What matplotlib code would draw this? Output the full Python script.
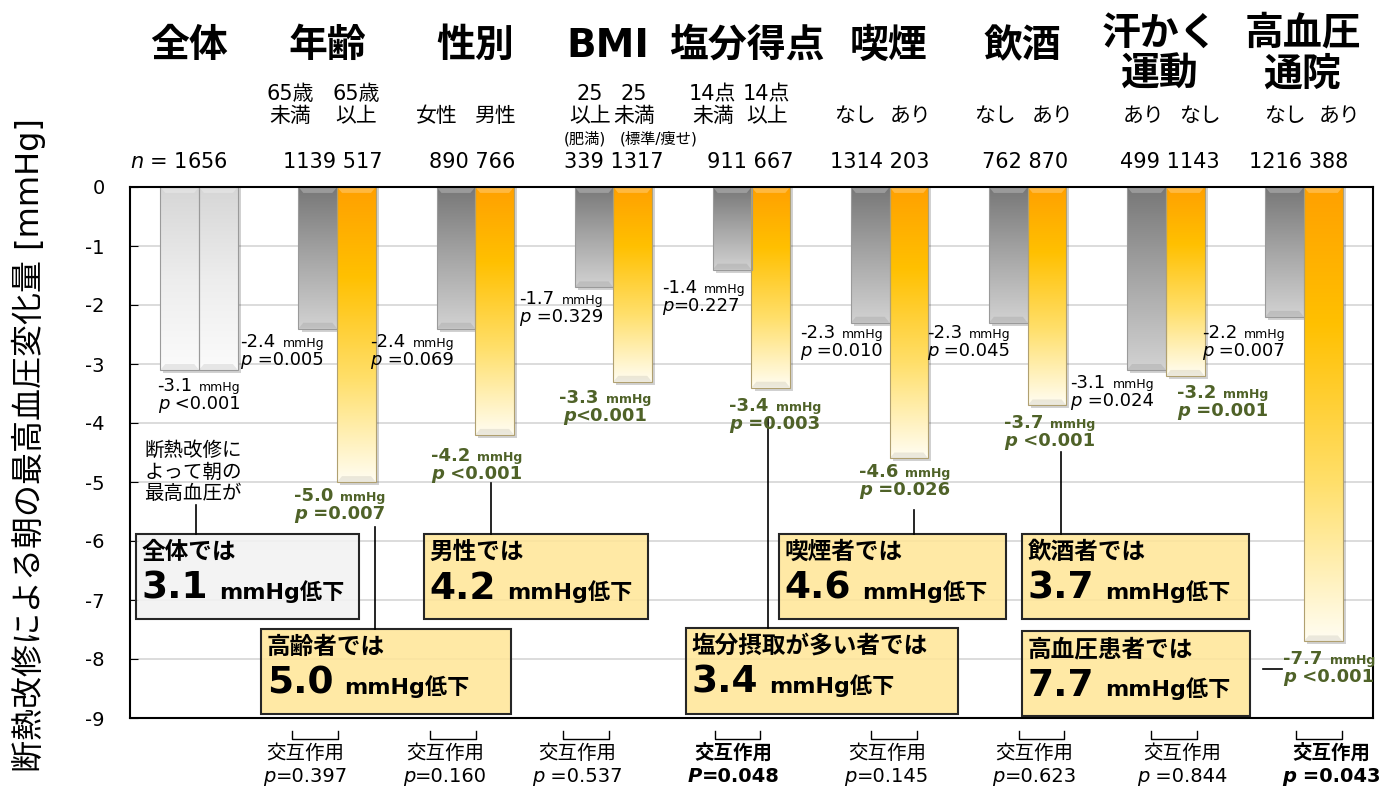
import matplotlib
matplotlib.use('Agg')
import matplotlib.pyplot as plt
import numpy as np
from matplotlib.colors import LinearSegmentedColormap, to_rgba
from matplotlib.patches import Rectangle, Polygon
from matplotlib.offsetbox import TextArea, HPacker, VPacker, AnnotationBbox
from matplotlib.transforms import blended_transform_factory

plt.rcParams['font.family'] = ['DejaVu Sans', 'Noto Sans CJK JP']
plt.rcParams['mathtext.fontset'] = 'dejavusans'
plt.rcParams['axes.unicode_minus'] = False

# ---- data ----
groups = ['全体', '年齢', '性別', 'BMI', '塩分得点', '喫煙', '飲酒', '汗かく\n運動', '高血圧\n通院']
sub_left = [None, '65歳\n未満', '女性', '25\n以上', '14点\n未満', 'なし', 'なし', 'あり', 'なし']
sub_right = [None, '65歳\n以上', '男性', '25\n未満', '14点\n以上', 'あり', 'あり', 'なし', 'あり']
bmi_notes = ['(肥満)', '(標準/痩せ)']
n_left = [1656, 1139, 890, 339, 911, 1314, 762, 499, 1216]
n_right = [None, 517, 766, 1317, 667, 203, 870, 1143, 388]
change_ref = [-3.1, -2.4, -2.4, -1.7, -1.4, -2.3, -2.3, -3.1, -2.2]
change_risk = [-3.1, -5.0, -4.2, -3.3, -3.4, -4.6, -3.7, -3.2, -7.7]
p_ref = [' <0.001', ' =0.005', ' =0.069', ' =0.329', '=0.227', ' =0.010', ' =0.045', ' =0.024', ' =0.007']
p_risk = [None, ' =0.007', ' <0.001', '<0.001', ' =0.003', ' =0.026', ' <0.001', ' =0.001', ' <0.001']
p_interaction = [None, '=0.397', '=0.160', ' =0.537', '=0.048', '=0.145', '=0.623', ' =0.844', ' =0.043']
p_symbol = [None, 'p', 'p', 'p', 'P', 'p', 'p', 'p', 'p']
box_groups = [0, 1, 2, 4, 5, 6, 8]
box_titles = ['全体では', '高齢者では', '男性では', '塩分摂取が多い者では', '喫煙者では', '飲酒者では', '高血圧患者では']
note_text = '断熱改修に\nよって朝の\n最高血圧が'

# ---- layout ----
W, H = 1381, 787
bar_w = 0.28
GREEN = '#4f6228'
ref_dx = [0.0, -0.70, -0.76, -0.68, -0.65, -0.65, -0.73, -0.69, -0.74]
ref_dy = [-0.12, -0.07, -0.07, -0.05, -0.16, -0.02, -0.02, -0.07, -0.12]
risk_dx = [None, 0.02, 0.01, -0.06, 0.17, 0.11, 0.16, 0.41, -0.15]
risk_dy = [None, -0.08, -0.21, -0.12, -0.16, -0.08, -0.15, -0.14, -0.15]
head_dx = [-0.07, -0.07, 0.0, -0.04, -0.03, -0.01, -0.04, -0.04, -0.01]
sub_xl = [None, 0.66, 1.72, 2.83, 3.72, 4.75, 5.76, 6.84, 7.86]
sub_xr = [None, 1.14, 2.14, 3.15, 4.11, 5.15, 6.18, 7.25, 8.26]
n_x = [-0.145, 0.97, 1.98, 3.0, 3.99, 4.93, 5.98, 7.03, 7.96]
bracket_x = [None, 0.84, 1.84, 2.80, 3.90, 5.03, 6.10, 7.06, 8.11]
inter_x = [None, 0.77, 1.78, 2.74, 3.87, 4.98, 6.05, 7.12, 8.20]
box_pos = [(-0.457, 1.158, -5.88, -7.32), (0.449, 2.259, -7.49, -8.93),
           (1.629, 3.251, -5.88, -7.32), (3.526, 5.496, -7.47, -8.93),
           (4.20, 5.843, -5.88, -7.32), (5.959, 7.603, -5.88, -7.32),
           (5.959, 7.61, -7.53, -8.97)]
link_pos = [(-0.022, -5.39), (1.274, -5.76), (2.114, -5.02), (4.12, -3.92),
            (5.18, -5.47), (6.24, -4.49), None]

fig = plt.figure(figsize=(W / 100, H / 100), dpi=100)
ax = fig.add_axes([130 / W, 1 - 718 / H, 1243 / W, 531 / H])
top = blended_transform_factory(ax.transData, fig.transFigure)


def fig_y(py):
    return 1 - py / H


gray_cm = LinearSegmentedColormap.from_list('g', ['#777777', '#a6a6a6', '#d2d2d2'])
orange_cm = LinearSegmentedColormap.from_list(
    'o', [(0, '#ffa000'), (0.3, '#ffc000'), (0.65, '#ffdf6a'), (1, '#fffdf2')])
light_cm = LinearSegmentedColormap.from_list('l', ['#d6d6d6', '#ededed', '#fbfbfb'])
grad = np.linspace(0, 1, 256).reshape(-1, 1)


def shade_bars(bars, cmaps):
    for b, cm in zip(bars, cmaps):
        x0, w, h = b.get_x(), b.get_width(), b.get_height()
        ax.add_patch(Rectangle((x0 + 0.022, 0), w, h - 0.05, color='black',
                               alpha=0.18, lw=0, zorder=1.5))
        im = ax.imshow(grad, cmap=cm, aspect='auto', origin='upper',
                       extent=(x0, x0 + w, h, 0), zorder=2, interpolation='bilinear')
        im.set_clip_path(b)
        # bevel at top and bottom
        bev = 0.035
        ax.add_patch(Polygon([(x0, 0), (x0 + w, 0), (x0 + w - bev, -0.1), (x0 + bev, -0.1)],
                             closed=True, color='white', alpha=0.25, lw=0, zorder=2.1))
        ax.add_patch(Polygon([(x0, h), (x0 + w, h), (x0 + w - bev, h + 0.1), (x0 + bev, h + 0.1)],
                             closed=True, color='black', alpha=0.08, lw=0, zorder=2.1))


x = np.arange(len(groups))
bars_ref = ax.bar(x - bar_w / 2, change_ref, bar_w, facecolor='none',
                  edgecolor='#9a9a9a', lw=0.8, zorder=2.2)
bars_risk = ax.bar(x + bar_w / 2, change_risk, bar_w, facecolor='none',
                   edgecolor='#b0a070', lw=0.8, zorder=2.2)
shade_bars(bars_ref, [light_cm] + [gray_cm] * (len(groups) - 1))
shade_bars(bars_risk, [light_cm] + [orange_cm] * (len(groups) - 1))
bars_risk[0].set_edgecolor('#9a9a9a')

ax.set_xlim(-0.5, len(groups) - 0.5)
ax.set_ylim(-9, 0)
ax.set_xticks([])
ax.set_yticks(range(-9, 1))
ax.tick_params(axis='y', direction='in', length=6, labelsize=14, pad=18)
ax.yaxis.grid(True, color='#d9d9d9', lw=1.3)
ax.set_axisbelow(True)
for s in ax.spines.values():
    s.set_linewidth(1.5)


def value_label(xp, yp, value, p, ha, risk):
    kw = dict(color=GREEN if risk else 'black', fontweight='bold' if risk else 'normal')
    line1 = HPacker(children=[TextArea(f'{value:.1f}', textprops=dict(size=13, **kw)),
                              TextArea('mmHg', textprops=dict(size=9, **kw))],
                    align='baseline', pad=0, sep=5)
    line2 = HPacker(children=[TextArea('p', textprops=dict(size=13, style='italic', **kw)),
                              TextArea(p, textprops=dict(size=13, **kw))],
                    align='baseline', pad=0, sep=0)
    pack = VPacker(children=[line1, line2], align=ha, pad=0, sep=0)
    ab = AnnotationBbox(pack, (xp, yp), box_alignment=(0 if ha == 'left' else 0.5, 1),
                        frameon=False, pad=0, annotation_clip=False, zorder=5)
    ax.add_artist(ab)


for i in range(len(groups)):
    value_label(i + ref_dx[i], change_ref[i] + ref_dy[i], change_ref[i], p_ref[i],
                'center' if i == 0 else 'left', False)
    if p_risk[i] is not None:
        value_label(i + risk_dx[i], change_risk[i] + risk_dy[i], change_risk[i], p_risk[i],
                    'left' if i == len(groups) - 1 else 'center', True)

# headers, subgroup names and sample sizes
for i, name in enumerate(groups):
    two = '\n' in name
    ax.text(i + head_dx[i], fig_y(54 if two else 46), name, transform=top, ha='center',
            va='center', fontsize=28, fontweight='bold', linespacing=1.08)
    if sub_left[i] is not None:
        for xs, s in ((sub_xl[i], sub_left[i]), (sub_xr[i], sub_right[i])):
            ax.text(xs, fig_y(105 if '\n' in s else 116), s, transform=top, ha='center',
                    va='center', fontsize=15, linespacing=1.12)
    if i == 0:
        ntxt = f'$n$ = {n_left[i]}'
    else:
        ntxt = f'{n_left[i]} {n_right[i]}'
    ax.text(n_x[i], fig_y(162), ntxt, transform=top, ha='center', va='center', fontsize=15)

ax.text(sub_xl[3] - 0.04, fig_y(139), bmi_notes[0], transform=top, ha='center', va='center', fontsize=11)
ax.text(sub_xr[3] + 0.18, fig_y(139), bmi_notes[1], transform=top, ha='center', va='center', fontsize=11)

ax.text(-0.043, -4.83, note_text, ha='center', va='center', fontsize=14, linespacing=1.2, zorder=5)

# summary boxes
for g, title, (x0, x1, yt, yb), link in zip(box_groups, box_titles, box_pos, link_pos):
    face = '#f2f2f2' if g == 0 else '#ffe699'
    ax.add_patch(Rectangle((x0, yb), x1 - x0, yt - yb, facecolor=to_rgba(face, 0.88),
                           edgecolor='#262626', lw=1.5, zorder=3))
    num = TextArea(f'{-change_risk[g]:.1f}', textprops=dict(size=27, fontweight='bold'))
    unit = TextArea('mmHg低下', textprops=dict(size=16, fontweight='bold'))
    pack = VPacker(children=[TextArea(title, textprops=dict(size=17, fontweight='bold')),
                             HPacker(children=[num, unit], align='baseline', pad=0, sep=8)],
                   align='left', pad=0, sep=5)
    ax.add_artist(AnnotationBbox(pack, (x0 + 0.04, yt - 0.1), box_alignment=(0, 1),
                                 frameon=False, pad=0, zorder=4))
    if link is not None:
        ax.plot([link[0], link[0]], [link[1], yt], color='black', lw=1.2, zorder=4.5)
ax.plot([7.70, 7.84], [-8.17, -8.17], color='black', lw=1.2, zorder=4.5)

# interaction tests below the axis
for i in range(1, len(groups)):
    bx = bracket_x[i]
    ax.plot([bx - 0.165, bx - 0.165, bx + 0.165, bx + 0.165], [-9.22, -9.36, -9.36, -9.22],
            color='black', lw=1.0, clip_on=False)
    sig = float(p_interaction[i].strip(' =')) < 0.05
    w = 'bold' if sig else 'normal'
    ax.text(inter_x[i], -9.6, '交互作用', ha='center', va='center', fontsize=14,
            fontweight=w, clip_on=False)
    line = HPacker(children=[TextArea(p_symbol[i], textprops=dict(size=14, style='italic', fontweight=w)),
                             TextArea(p_interaction[i], textprops=dict(size=14, fontweight=w))],
                   align='baseline', pad=0, sep=0)
    ax.add_artist(AnnotationBbox(line, (inter_x[i], -10.0), box_alignment=(0.5, 0.5),
                                 frameon=False, pad=0, annotation_clip=False))

fig.text(0.021, 0.435, '断熱改修による朝の最高血圧変化量 [mmHg]', rotation=90,
         ha='center', va='center', fontsize=23)

fig.savefig('out.png', dpi=100)
